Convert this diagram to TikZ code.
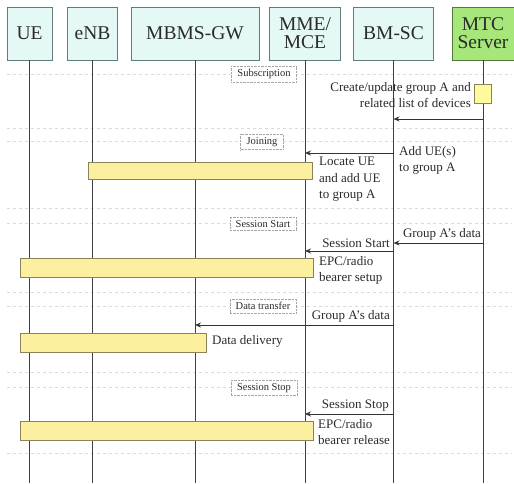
\documentclass[tikz,border=0pt]{standalone}
\usepackage{fontspec}
\setmainfont{Liberation Serif}
\usetikzlibrary{arrows.meta}
\definecolor{hdrfill}{HTML}{E4F8F6}
\definecolor{hdrdraw}{HTML}{5E7E7C}
\definecolor{mtcfill}{HTML}{A6E67A}
\definecolor{mtcdraw}{HTML}{4E7A3C}
\definecolor{actfill}{HTML}{FCEFA0}
\definecolor{actdraw}{HTML}{8A8258}
\definecolor{sqfill}{HTML}{FFFA9E}
\definecolor{sepcol}{HTML}{DADADA}
\definecolor{txt}{HTML}{2A2A2A}
\begin{document}
\begin{tikzpicture}[x=1pt,y=-1pt,
  hdr/.style={draw=hdrdraw,fill=hdrfill,line width=0.8pt,minimum height=53pt,inner sep=1pt,align=center,font=\fontsize{19.5}{18}\selectfont,text=txt},
  mtchdr/.style={hdr,draw=mtcdraw,fill=mtcfill},
  life/.style={draw=black!75,line width=0.7pt},
  sep/.style={draw=sepcol,dashed,line width=0.6pt},
  grp/.style={draw=black!35,densely dotted,fill=white,inner xsep=6pt,inner ysep=3pt,font=\fontsize{10.5}{12}\selectfont,text=txt},
  act/.style={draw=actdraw,fill=actfill,line width=0.7pt,inner sep=0pt},
  msg/.style={draw=black!80,line width=0.8pt,-{Stealth[length=6pt,width=5pt]}},
  lbl/.style={inner sep=0pt,font=\fontsize{13}{16.5}\selectfont,text=txt,align=left},
  lblr/.style={lbl,align=right}]
\useasboundingbox (0,0) rectangle (514,483);
% headers
\node[hdr,minimum width=45pt] (ue) at (29.5,33.5) {UE};
\node[hdr,minimum width=50pt] (enb) at (92.5,33.5) {eNB};
\node[hdr,minimum width=128pt] (mbms) at (195,33.5) {MBMS-GW};
\node[hdr,minimum width=71pt] (mme) at (305,33.5) {MME/\\MCE};
\node[hdr,minimum width=80pt] (bmsc) at (393.5,33.5) {BM-SC};
\node[mtchdr,minimum width=62pt] (mtc) at (483,33.5) {MTC\\Server};
% group separators
\coordinate (L) at (7,0);
\coordinate (R) at (512,0);
\foreach \yy in {74,128,141,208,223,292,306,372,387,453}
  \draw[sep] (L |- 0,\yy) -- (R |- 0,\yy);
% lifelines
\coordinate (bot) at (0,483);
\foreach \n in {ue,enb,mbms,mme,bmsc,mtc}
  \draw[life] (\n.south) -- (\n.south |- bot);
% group labels
\node[grp] (g1) at (264,74) {Subscription};
\node[grp] (g2) at (262,142) {Joining};
\node[grp] (g3) at (263,224) {Session Start};
\node[grp] (g4) at (263,306) {Data transfer};
\node[grp] (g5) at (264,388) {Session Stop};
% subscription
\node[draw=actdraw,fill=sqfill,line width=0.7pt,minimum width=17pt,minimum height=19pt,inner sep=0pt] (sq) at (mtc.center |- 0,93.5) {};
\node[lblr,anchor=east] (t1) at (471,95) {Create/update group A and\\related list of devices};
\draw[msg] (mtc |- 0,119) -- (bmsc |- 0,119);
% joining
\draw[msg] (bmsc |- 0,153) -- (mme |- 0,153);
\node[lbl,anchor=north west] (t2) at (399,146) {Add UE(s)\\to group A};
\node[act,minimum width=224pt,minimum height=17pt] (a1) at (200,170.5) {};
\node[lbl,anchor=north west] (t3) at (319,157) {Locate UE\\and add UE\\to group A};
% session start
\draw[msg] (mtc |- 0,243) -- (bmsc |- 0,243);
\node[lbl,anchor=south] (t4) at (442,240) {Group A's data};
\draw[msg] (bmsc |- 0,251) -- (mme |- 0,251);
\node[lblr,anchor=south east] (t5) at (390,248) {Session Start};
\node[act,minimum width=293pt,minimum height=19pt] (a2) at (166.5,267.5) {};
\node[lbl,anchor=north west] (t6) at (319,256) {EPC/radio\\bearer setup};
% data transfer
\draw[msg] (bmsc |- 0,325) -- (mbms |- 0,325);
\node[lblr,anchor=south east] (t7) at (390,322) {Group A's data};
\node[act,minimum width=186pt,minimum height=19pt] (a3) at (113,342.5) {};
\node[lbl,anchor=west] (t8) at (212,341) {Data delivery};
% session stop
\draw[msg] (bmsc |- 0,414) -- (mme |- 0,414);
\node[lblr,anchor=south east] (t9) at (389,411) {Session Stop};
\node[act,minimum width=293pt,minimum height=19pt] (a4) at (166.5,430.5) {};
\node[lbl,anchor=north west] (t10) at (318,419) {EPC/radio\\bearer release};
\end{tikzpicture}
\end{document}
